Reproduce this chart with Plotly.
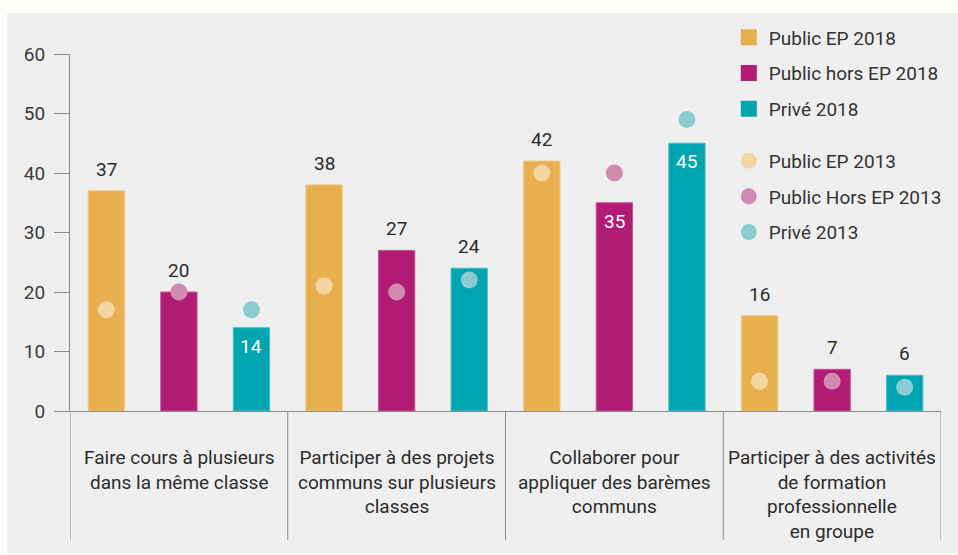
import plotly.graph_objects as go

# Categories (x axis)
categories = [
    "Faire cours à plusieurs<br>dans la même classe",
    "Participer à des projets<br>communs sur plusieurs<br>classes",
    "Collaborer pour<br>appliquer des barèmes<br>communs",
    "Participer à des activités<br>de formation<br>professionnelle<br>en groupe",
]

# 2018 values (bars)
series_2018 = ["Public EP 2018", "Public hors EP 2018", "Privé 2018"]
public_ep_2018 = [37, 38, 42, 16]
public_hors_ep_2018 = [20, 27, 35, 7]
prive_2018 = [14, 24, 45, 6]

# 2013 values (dots)
series_2013 = ["Public EP 2013", "Public Hors EP 2013", "Privé 2013"]
public_ep_2013 = [17, 21, 40, 5]
public_hors_ep_2013 = [20, 20, 40, 5]
prive_2013 = [17, 22, 49, 4]

y_ticks = [0, 10, 20, 30, 40, 50, 60]

bar_colors = ["#e8af4e", "#b31c75", "#00a5b0"]
bar_edges = ["#f0c77e", "#c75596", "#46bfc6"]
dot_colors = ["#f2d5a0", "#d08bb1", "#8bcbd2"]

FONT = "Roboto, 'Open Sans', sans-serif"
FS = 19
TEXT = "#2b2b2b"
AXIS = "#8a8a8a"

values_2018 = [public_ep_2018, public_hors_ep_2018, prive_2018]
values_2013 = [public_ep_2013, public_hors_ep_2013, prive_2013]

n_cat = len(categories)
n_ser = len(series_2018)
slot = 1.0 / n_ser          # each series gets a third of the category width
bar_w = slot * 0.5          # bars fill half of their slot
positions = list(range(n_cat))

fig = go.Figure()

annotations = []
for k in range(n_ser):
    xs = [p + (k - (n_ser - 1) / 2) * slot for p in positions]
    fig.add_trace(go.Bar(
        x=xs, y=values_2018[k], width=bar_w,
        marker=dict(color=bar_colors[k], line=dict(color=bar_edges[k], width=1)),
        showlegend=False, hoverinfo="skip",
    ))
    for x, v18, v13 in zip(xs, values_2018[k], values_2013[k]):
        # value goes inside the bar when the 2013 dot sits above it
        inside = v13 > v18
        annotations.append(dict(
            x=x, y=v18, xref="x", yref="y", text=str(v18), showarrow=False,
            yanchor="top" if inside else "bottom",
            yshift=-5 if inside else 8,
            font=dict(family=FONT, size=FS, color="white" if inside else TEXT),
        ))

for k in range(n_ser):
    xs = [p + (k - (n_ser - 1) / 2) * slot for p in positions]
    fig.add_trace(go.Scatter(
        x=xs, y=values_2013[k], mode="markers",
        marker=dict(color=dot_colors[k], size=17, line=dict(width=0)),
        showlegend=False, hoverinfo="skip",
    ))

# Legend entries
for k in range(n_ser):
    fig.add_trace(go.Scatter(
        x=[None], y=[None], mode="markers", name=series_2018[k],
        marker=dict(symbol="square", color=bar_colors[k], size=16),
        legend="legend", legendgroup=f"a{k}",
    ))
for k in range(n_ser):
    fig.add_trace(go.Scatter(
        x=[None], y=[None], mode="markers", name=series_2013[k],
        marker=dict(symbol="circle", color=dot_colors[k], size=16),
        legend="legend2", legendgroup=f"b{k}",
    ))

# Category labels below the axis
for p, c in zip(positions, categories):
    annotations.append(dict(
        x=p, y=-0.092, xref="x", yref="paper", text=c, showarrow=False,
        yanchor="top", align="center",
        font=dict(family=FONT, size=FS, color=TEXT),
    ))

# Background panel and category separators
shapes = [dict(type="rect", xref="paper", yref="paper",
               x0=-0.0722, x1=1.02, y0=-0.40, y1=1.1148,
               fillcolor="#efefef", line=dict(width=0), layer="below")]
for b in [p - 0.5 for p in positions] + [positions[-1] + 0.5]:
    shapes.append(dict(type="line", xref="x", yref="paper",
                       x0=b, x1=b, y0=0, y1=-0.361,
                       line=dict(color=AXIS, width=1)))

legend_style = dict(
    font=dict(family=FONT, size=FS, color="#333333"),
    bgcolor="rgba(0,0,0,0)", traceorder="grouped", tracegroupgap=8,
    xanchor="left", yanchor="top", itemclick=False, itemdoubleclick=False,
)

fig.update_layout(
    width=958, height=555,
    margin=dict(l=70, r=16, t=54, b=144),
    paper_bgcolor="#fefef8", plot_bgcolor="rgba(0,0,0,0)",
    barmode="overlay",
    xaxis=dict(range=[-0.5, 3.5], showticklabels=False, ticks="",
               showgrid=False, zeroline=False, showline=True,
               linecolor=AXIS, linewidth=1, fixedrange=True),
    yaxis=dict(range=[0, 60], tickvals=y_ticks, ticks="outside", ticklen=15,
               tickcolor=AXIS, tickwidth=1, showgrid=False, zeroline=False,
               showline=True, linecolor=AXIS, linewidth=1, ticklabelstandoff=5,
               tickfont=dict(family=FONT, size=FS, color="#3a3a3a"),
               fixedrange=True),
    legend=dict(x=0.7555, y=1.0994, **legend_style),
    legend2=dict(x=0.7555, y=0.754, **legend_style),
    annotations=annotations,
    shapes=shapes,
    showlegend=True,
)

fig.write_html("out.html")
